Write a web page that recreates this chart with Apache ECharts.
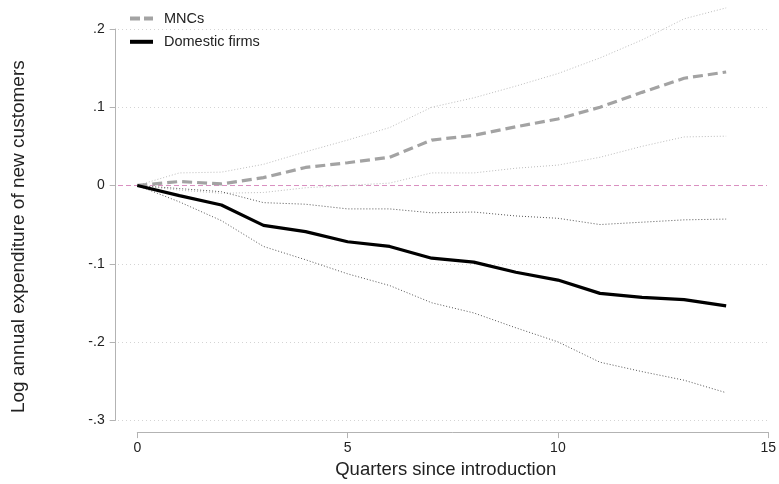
<!DOCTYPE html>
<html>
<head>
<meta charset="utf-8">
<script src="https://cdn.jsdelivr.net/npm/echarts@6/dist/echarts.min.js"></script>
<style>
  html, body { margin: 0; padding: 0; background: #fff; }
  #chart { width: 779px; height: 484px; }
</style>
</head>
<body>
<div id="chart"></div>
<script>
// Quarters since the product introduction
const quarters = [0, 1, 2, 3, 4, 5, 6, 7, 8, 9, 10, 11, 12, 13, 14];

// Point estimates and 95% confidence bounds
const mnc      = [0, 0.005, 0.002, 0.010, 0.023, 0.029, 0.036, 0.058, 0.064, 0.075, 0.085, 0.100, 0.119, 0.137, 0.145];
const mncUpper = [0, 0.016, 0.017, 0.027, 0.043, 0.058, 0.074, 0.100, 0.112, 0.127, 0.143, 0.163, 0.186, 0.213, 0.227];
const mncLower = [0, -0.006, -0.010, -0.009, -0.003, 0.000, 0.003, 0.016, 0.016, 0.022, 0.026, 0.036, 0.050, 0.062, 0.063];

const dom      = [0, -0.013, -0.025, -0.051, -0.059, -0.072, -0.078, -0.093, -0.098, -0.111, -0.121, -0.138, -0.143, -0.146, -0.154];
const domUpper = [0, -0.004, -0.008, -0.022, -0.024, -0.030, -0.030, -0.035, -0.034, -0.039, -0.042, -0.050, -0.047, -0.044, -0.043];
const domLower = [0, -0.021, -0.045, -0.078, -0.095, -0.113, -0.128, -0.150, -0.163, -0.182, -0.200, -0.226, -0.238, -0.249, -0.265];

// Horizontal reference level
const refLevel = 0;

// Axis ticks
const yTicks = [-0.3, -0.2, -0.1, 0, 0.1, 0.2];
const yTickLabels = ['-.3', '-.2', '-.1', '0', '.1', '.2'];
const xTicks = [0, 5, 10, 15];

const FONT = '"Liberation Sans", Arial, sans-serif';
const TXT = '#222';
const AXIS = '#b3b3b3';
const REF = '#d98fc0';

const pairs = (ys) => quarters.map((q, i) => [q, ys[i]]);

function yLabel(v) {
  const i = yTicks.findIndex(t => Math.abs(t - v) < 1e-9);
  return i >= 0 ? yTickLabels[i] : '';
}

const chart = echarts.init(document.getElementById('chart'), null, { renderer: 'canvas' });

const lineBase = {
  type: 'line',
  xAxisIndex: 1,
  yAxisIndex: 1,
  symbol: 'none',
  clip: false,
  silent: true,
  animation: false
};

chart.setOption({
  animation: false,
  backgroundColor: '#fff',
  grid: [
    // background grid carrying the y axis and reference line
    { left: 118, right: 12, top: 29, bottom: 63.7, containLabel: false },
    // data area aligned to the x axis
    { left: 137.3, right: 9, top: 29, bottom: 63.7, containLabel: false }
  ],
  legend: {
    orient: 'vertical',
    left: 125,
    top: 6,
    itemWidth: 23,
    itemHeight: 4,
    itemGap: 8.3,
    itemStyle: { borderWidth: 0 },
    lineStyle: { width: 0 },
    textStyle: { fontFamily: FONT, fontSize: 14.5, lineHeight: 15, color: TXT, padding: [0, 0, 0, 6] },
    data: [
      { name: 'MNCs', icon: 'path://M0,0H10V4H0Z M14,0H23V4H14Z' },
      { name: 'Domestic firms', icon: 'path://M0,0H23V4H0Z' }
    ]
  },
  xAxis: [
    { gridIndex: 0, type: 'value', min: 0, max: 1, show: false },
    {
      gridIndex: 1,
      type: 'value',
      min: xTicks[0],
      max: xTicks[xTicks.length - 1],
      interval: 5,
      offset: 12,
      name: 'Quarters since introduction',
      nameLocation: 'middle',
      nameGap: 22,
      nameTextStyle: { fontFamily: FONT, fontSize: 18.5, color: TXT, padding: [0, 14, 0, 0] },
      axisLine: { show: true, onZero: false, lineStyle: { color: AXIS, width: 1 } },
      axisTick: { show: true, length: 6, lineStyle: { color: AXIS } },
      axisLabel: { fontFamily: FONT, fontSize: 14, color: TXT, margin: 9 },
      splitLine: { show: false }
    }
  ],
  yAxis: [
    {
      gridIndex: 0,
      type: 'value',
      min: yTicks[0],
      max: yTicks[yTicks.length - 1],
      interval: 0.1,
      offset: 2.3,
      name: 'Log annual expenditure of new customers',
      nameLocation: 'middle',
      nameGap: 87,
      nameTextStyle: { fontFamily: FONT, fontSize: 19, color: TXT, padding: [0, 24, 0, 0] },
      axisLine: { show: true, onZero: false, lineStyle: { color: AXIS, width: 1 } },
      axisTick: { show: true, length: 6, lineStyle: { color: AXIS } },
      axisLabel: { fontFamily: FONT, fontSize: 14, color: TXT, margin: 11, formatter: yLabel },
      splitLine: { show: true, lineStyle: { color: '#d4d4d4', width: 1, type: [1, 3] } }
    },
    {
      gridIndex: 1,
      type: 'value',
      min: yTicks[0],
      max: yTicks[yTicks.length - 1],
      interval: 0.1,
      show: false
    }
  ],
  series: [
    {
      // horizontal reference line across the whole plot region
      name: 'reference',
      type: 'line',
      xAxisIndex: 0,
      yAxisIndex: 0,
      symbol: 'none',
      silent: true,
      data: [[0, refLevel], [1, refLevel]],
      itemStyle: { color: REF },
      lineStyle: { color: REF, width: 1, type: [5, 3] }
    },
    Object.assign({}, lineBase, {
      name: 'MNCs upper',
      data: pairs(mncUpper),
      lineStyle: { color: '#bdbdbd', width: 1, type: [1, 2] }
    }),
    Object.assign({}, lineBase, {
      name: 'MNCs lower',
      data: pairs(mncLower),
      lineStyle: { color: '#bdbdbd', width: 1, type: [1, 2] }
    }),
    Object.assign({}, lineBase, {
      name: 'Domestic upper',
      data: pairs(domUpper),
      lineStyle: { color: '#555', width: 1, type: [1, 2] }
    }),
    Object.assign({}, lineBase, {
      name: 'Domestic lower',
      data: pairs(domLower),
      lineStyle: { color: '#555', width: 1, type: [1, 2] }
    }),
    Object.assign({}, lineBase, {
      name: 'MNCs',
      data: pairs(mnc),
      itemStyle: { color: '#a3a3a3' },
      lineStyle: { color: '#a3a3a3', width: 3.2, type: [10, 5] }
    }),
    Object.assign({}, lineBase, {
      name: 'Domestic firms',
      data: pairs(dom),
      itemStyle: { color: '#000' },
      lineStyle: { color: '#000', width: 3.2, type: 'solid' }
    })
  ]
});
</script>
</body>
</html>
